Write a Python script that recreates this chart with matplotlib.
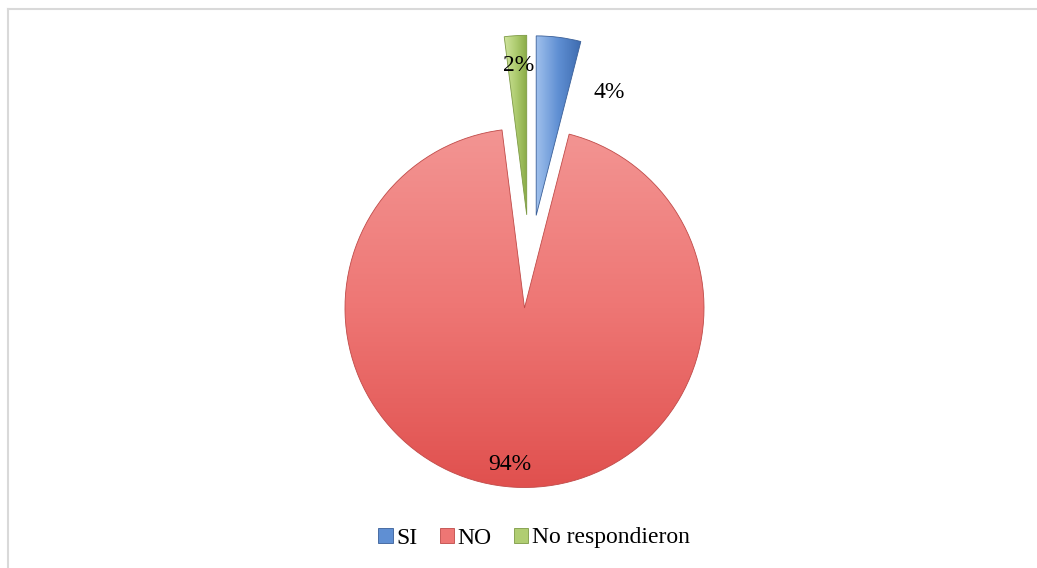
import matplotlib
matplotlib.use("Agg")
import matplotlib.pyplot as plt
import numpy as np
from matplotlib.colors import LinearSegmentedColormap
from matplotlib.patches import Patch

categories = ["SI", "NO", "No respondieron"]
values = [4, 94, 2]
pct_labels = ["4%", "94%", "2%"]

base_colors = ["#5F8FD3", "#EE7674", "#B0CD72"]
light_colors = ["#A3C3EE", "#F39593", "#D3E6A3"]
dark_colors = ["#3C6AAE", "#E0504E", "#86A842"]
edge_colors = ["#3A5F98", "#C04A48", "#7D9A45"]
explode = [0.52, 0.0, 0.52]
x_nudge = [0.0, 0.0, 0.045]
label_pos = [(0.47, 1.20), (-0.08, -0.87), (-0.03, 1.35)]

W, H = 1037, 568
cx, cy, R = 524.5, 308.0, 179.5

plt.rcParams['font.family'] = ['Liberation Serif', 'DejaVu Serif']

fig = plt.figure(figsize=(W / 100, H / 100), dpi=100)
ax = fig.add_axes([0, 0, 1, 1])
ax.set_xlim(-cx / R, (W - cx) / R)
ax.set_ylim(-(H - cy) / R, cy / R)
ax.axis('off')

wedges, texts, autotexts = ax.pie(values, startangle=90, counterclock=False,
                                  explode=explode, colors=base_colors,
                                  autopct='%1.0f%%', radius=1.0,
                                  wedgeprops=dict(linewidth=0.6))

renderer = fig.canvas.get_renderer()
inv = ax.transData.inverted()
for i, w in enumerate(wedges):
    c = w.center
    w.set_center((c[0] + x_nudge[i], c[1]))
    w.set_edgecolor(edge_colors[i])
    bb = w.get_window_extent(renderer=renderer)
    (x0, y0), (x1, y1) = inv.transform([[bb.x0 - 2, bb.y0 - 2], [bb.x1 + 2, bb.y1 + 2]])
    cmap = LinearSegmentedColormap.from_list("g", [light_colors[i], base_colors[i], dark_colors[i]])
    if i == 1:
        grad = np.linspace(0, 1, 256).reshape(-1, 1)
    else:
        grad = np.linspace(0, 1, 256).reshape(1, -1)
    im = ax.imshow(grad, cmap=cmap, extent=(x0, x1, y0, y1), origin='upper',
                   aspect='auto', zorder=w.get_zorder() + 0.1, interpolation='bilinear')
    im.set_clip_path(w)
    w.set_zorder(w.get_zorder() + 0.2)
    w.set_facecolor('none')

ax.set_xlim(-cx / R, (W - cx) / R)
ax.set_ylim(-(H - cy) / R, cy / R)

for t in texts:
    t.set_text("")
for i, t in enumerate(autotexts):
    t.set_text(pct_labels[i])
    t.set_position(label_pos[i])
    t.set_fontsize(17)
    t.set_color('black')
    t.set_ha('center')
    t.set_va('center')
    t.set_zorder(10)

fig.add_artist(plt.Line2D([7.5 / W, 7.5 / W], [0, 1 - 9 / H], color='#D9D9D9', lw=1.5))
fig.add_artist(plt.Line2D([7.5 / W, 1], [1 - 9 / H, 1 - 9 / H], color='#D9D9D9', lw=1.5))

handles = [Patch(facecolor=base_colors[i], edgecolor=edge_colors[i], linewidth=0.6) for i in range(3)]
fig.legend(handles, categories, loc='center', bbox_to_anchor=(0.515, 1 - 538 / H),
           ncol=3, frameon=False, fontsize=17, handlelength=0.6, handleheight=0.6,
           handletextpad=0.15, columnspacing=0.95)

fig.savefig("out.png", dpi=100)
